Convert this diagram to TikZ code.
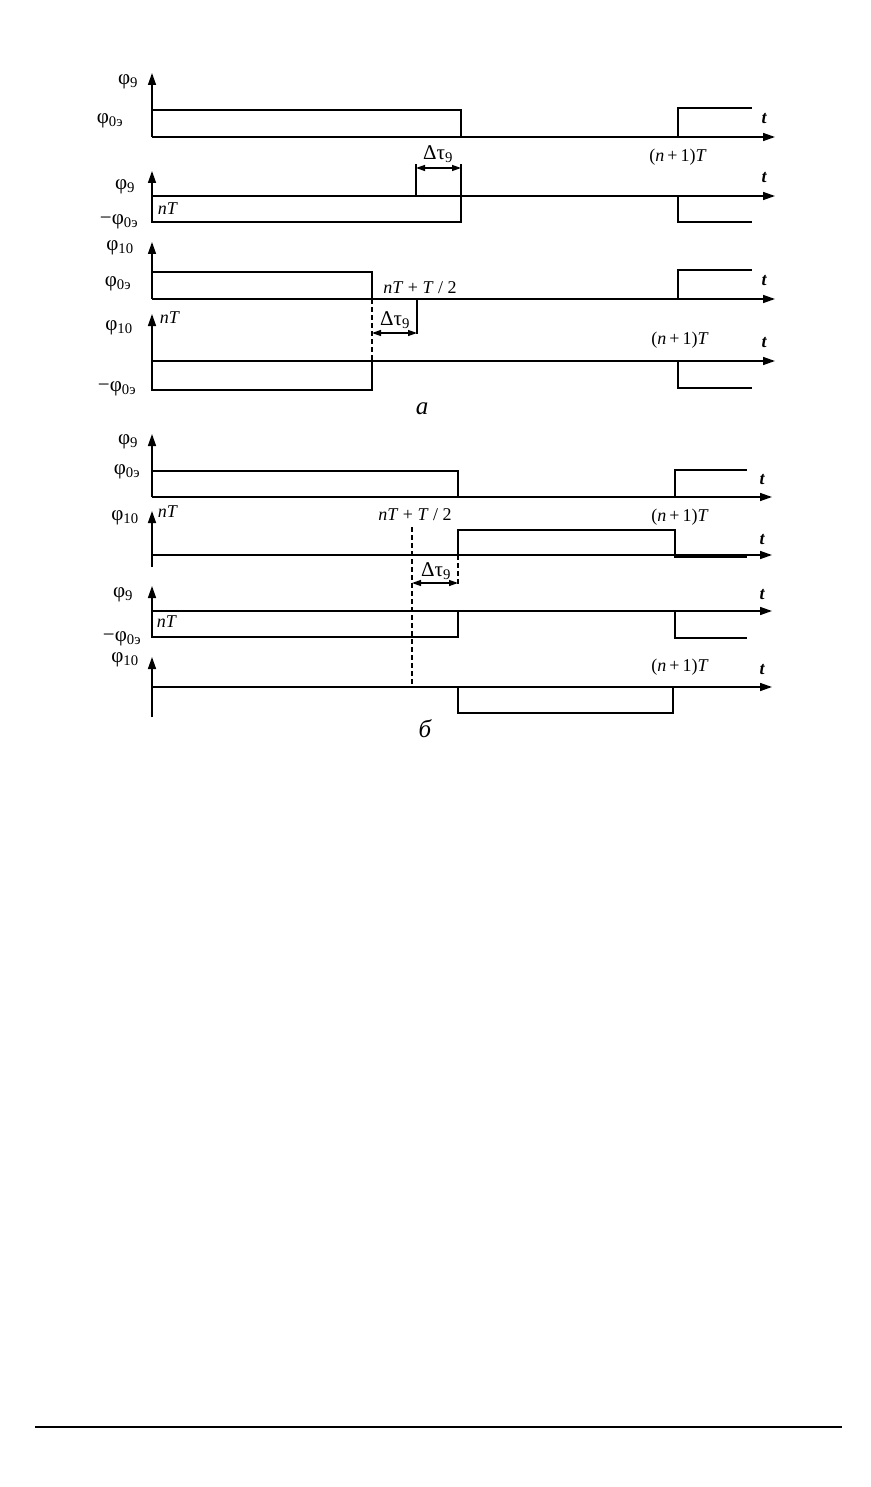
\documentclass[tikz,border=0pt]{standalone}
\usepackage{fontspec}
\setmainfont{Liberation Serif}
\usepackage{xcolor}
\usepackage{tikz}
\usetikzlibrary{arrows.meta}

\newcommand{\fsub}[1]{φ\textsubscript{#1}}
\newcommand{\dtau}{Δτ\textsubscript{9}}

\begin{document}
\begin{tikzpicture}[
  x=1pt,
  y=-1pt,
  axis/.style={line width=1.5pt, -{Triangle[length=12pt, width=8pt]}},
  wave/.style={line width=2.7pt, line join=miter},
  tick/.style={line width=1.3pt},
  span/.style={
    line width=1.3pt,
    {Triangle[length=9pt, width=6pt]}-{Triangle[length=9pt, width=6pt]},
  },
  guide/.style={line width=1.1pt, dash pattern=on 5pt off 3pt},
  lbl/.style={font=\fontsize{18}{20}\selectfont, inner sep=0pt},
  plbl/.style={font=\fontsize{21}{23}\selectfont, inner sep=0pt},
  tlbl/.style={font=\fontsize{18}{20}\selectfont\bfseries\itshape, inner sep=0pt},
  paneltitle/.style={font=\fontsize{25}{27}\selectfont\itshape, inner sep=0pt},
]
  \useasboundingbox (0, 0) rectangle (870, 1487);

  % panel a
  \begin{scope}
    % phi_9
    \draw[axis] (152, 137) -- (152, 73);
    \draw[axis] (152, 137) -- (775, 137);
    \draw[wave] (152, 137) -- (152, 110) -- (461, 110) -- (461, 137)
      -- (678, 137) -- (678, 108) -- (752, 108);
    \node[plbl] (a1y) at (128, 82) {\fsub{9}};
    \node[plbl] (a1l) at (110, 121) {\fsub{0э}};
    \node[tlbl] (a1t) at (764, 119) {t};
    \node[lbl] (a1n) at (678, 157) {(\textit{n}\,+\,1)\textit{T}};

    % phi_9, negative
    \draw[axis] (152, 222) -- (152, 171);
    \draw[axis] (152, 196) -- (775, 196);
    \draw[wave] (152, 196) -- (152, 222) -- (461, 222) -- (461, 196)
      -- (678, 196) -- (678, 222) -- (752, 222);
    \draw[tick] (416, 196) -- (416, 164);
    \draw[tick] (461, 196) -- (461, 164);
    \draw[span] (416, 168) -- (461, 168);
    \node[plbl] (a2d) at (438, 154) {\dtau};
    \node[plbl] (a2y) at (125, 187) {\fsub{9}};
    \node[plbl] (a2l) at (119, 222) {−\fsub{0э}};
    \node[lbl] (a2n) at (168, 209) {\textit{nT}};
    \node[tlbl] (a2t) at (764, 178) {t};

    % phi_10
    \draw[axis] (152, 299) -- (152, 242);
    \draw[axis] (152, 299) -- (775, 299);
    \draw[wave] (152, 299) -- (152, 272) -- (372, 272) -- (372, 299)
      -- (678, 299) -- (678, 270) -- (752, 270);
    \node[plbl] (a3y) at (120, 248) {\fsub{10}};
    \node[plbl] (a3l) at (118, 284) {\fsub{0э}};
    \node[lbl] (a3h) at (420, 288) {\textit{nT} + \textit{T} / 2};
    \node[tlbl] (a3t) at (764, 281) {t};

    % phi_10, negative
    \draw[axis] (152, 390) -- (152, 314);
    \draw[axis] (152, 361) -- (775, 361);
    \draw[wave] (152, 361) -- (152, 390) -- (372, 390) -- (372, 361)
      -- (678, 361) -- (678, 388) -- (752, 388);
    \draw[guide] (372, 299) -- (372, 361);
    \draw[tick] (417, 299) -- (417, 334);
    \draw[span] (372, 333) -- (417, 333);
    \node[plbl] (a4d) at (395, 320) {\dtau};
    \node[plbl] (a4y) at (119, 328) {\fsub{10}};
    \node[lbl] (a4n) at (170, 318) {\textit{nT}};
    \node[plbl] (a4l) at (117, 389) {−\fsub{0э}};
    \node[lbl] (a4m) at (680, 340) {(\textit{n}\,+\,1)\textit{T}};
    \node[tlbl] (a4t) at (764, 343) {t};

    \node[paneltitle] (capa) at (422, 409) {а};
  \end{scope}

  % panel b
  \begin{scope}
    % phi_9
    \draw[axis] (152, 497) -- (152, 434);
    \draw[axis] (152, 497) -- (772, 497);
    \draw[wave] (152, 497) -- (152, 471) -- (458, 471) -- (458, 497)
      -- (675, 497) -- (675, 470) -- (747, 470);
    \node[plbl] (b1y) at (128, 442) {\fsub{9}};
    \node[plbl] (b1l) at (127, 472) {\fsub{0э}};
    \node[tlbl] (b1t) at (762, 480) {t};
    \node[lbl] (b1n) at (680, 517) {(\textit{n}\,+\,1)\textit{T}};

    % phi_10
    \draw[axis] (152, 567) -- (152, 511);
    \draw[axis] (152, 555) -- (772, 555);
    \draw[wave] (152, 555) -- (458, 555) -- (458, 530)
      -- (675, 530) -- (675, 557) -- (747, 557);
    \node[plbl] (b2y) at (125, 518) {\fsub{10}};
    \node[lbl] (b2n) at (168, 512) {\textit{nT}};
    \node[lbl] (b2h) at (415, 515) {\textit{nT} + \textit{T} / 2};
    \node[tlbl] (b2t) at (762, 540) {t};

    % phi_9, negative
    \draw[axis] (152, 637) -- (152, 586);
    \draw[axis] (152, 611) -- (772, 611);
    \draw[wave] (152, 611) -- (152, 637) -- (458, 637) -- (458, 611)
      -- (675, 611) -- (675, 638) -- (747, 638);
    \node[plbl] (b3y) at (123, 595) {\fsub{9}};
    \node[plbl] (b3l) at (122, 639) {−\fsub{0э}};
    \node[lbl] (b3n) at (167, 622) {\textit{nT}};
    \node[tlbl] (b3t) at (762, 595) {t};

    % phi_10, negative
    \draw[axis] (152, 717) -- (152, 657);
    \draw[axis] (152, 687) -- (772, 687);
    \draw[wave] (152, 687) -- (458, 687) -- (458, 713)
      -- (673, 713) -- (673, 687) -- (747, 687);
    \node[plbl] (b4y) at (125, 660) {\fsub{10}};
    \node[lbl] (b4m) at (680, 667) {(\textit{n}\,+\,1)\textit{T}};
    \node[tlbl] (b4t) at (762, 670) {t};

    \draw[guide] (412, 527) -- (412, 687);
    \draw[guide] (458, 555) -- (458, 584);
    \draw[span] (412, 583) -- (458, 583);
    \node[plbl] (b2d) at (436, 571) {\dtau};

    \node[paneltitle] (capb) at (425, 729) {б};
  \end{scope}

  \draw[line width=1.5pt] (35, 1427) -- (842, 1427);
\end{tikzpicture}
\end{document}
